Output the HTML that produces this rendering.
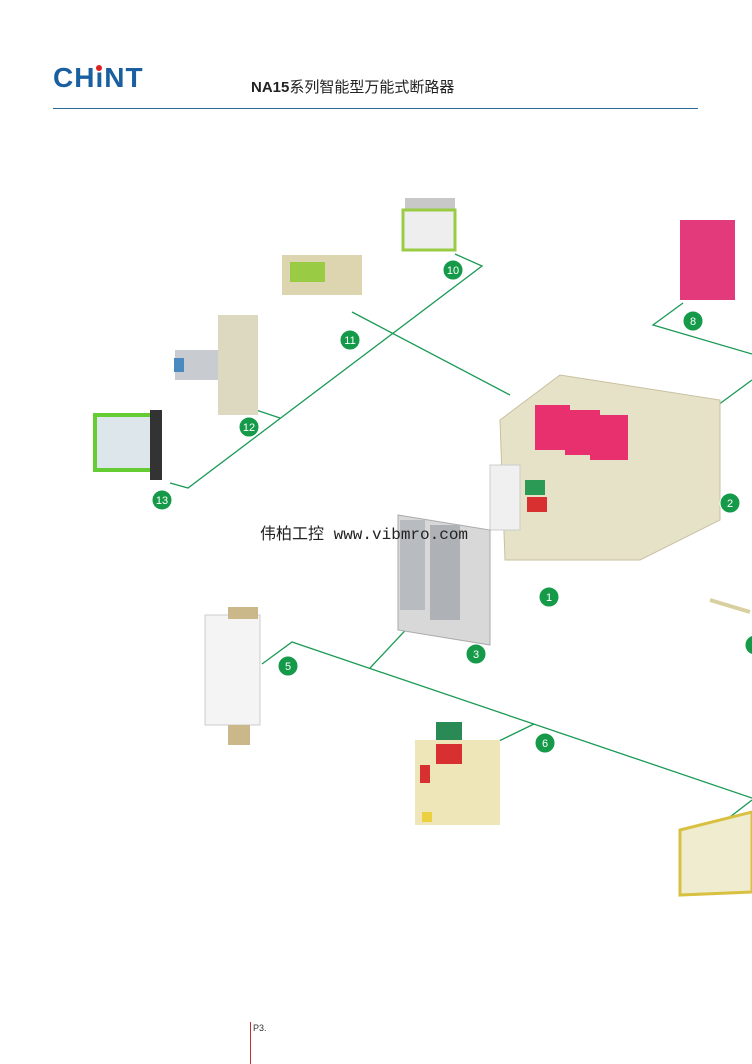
<!DOCTYPE html>
<html><head><meta charset="utf-8"><style>
html,body{margin:0;padding:0;background:#fff;}
body{width:752px;height:1064px;position:relative;overflow:hidden;font-family:"Liberation Sans","Noto Sans CJK SC",sans-serif;}
.t{position:absolute;white-space:nowrap;}
</style></head><body>
<div class="t" style="left:53px;top:62px;font-size:28px;font-weight:bold;color:#1a5fa0;letter-spacing:1px;">C<span>H</span><span style="position:relative">i<span style="position:absolute;left:1px;top:3px;width:6px;height:6px;background:#e02020;border-radius:50%"></span></span>NT</div>
<div class="t" style="left:251px;top:76px;font-size:15px;font-weight:bold;color:#222;">NA15<span style="font-weight:normal">系列智能型万能式断路器</span></div>
<div style="position:absolute;left:53px;top:108px;width:645px;height:1px;background:#2a6a98"></div>
<div style="position:absolute;left:250px;top:1022px;width:1px;height:42px;background:#c03030"></div>
<div class="t" style="left:253px;top:1023px;font-size:9px;color:#333">P3.</div>
<svg width="752" height="1064" style="position:absolute;left:0;top:0">
<g stroke="#1a9a55" stroke-width="1.3" fill="none">
<polyline points="455,254 482,266 188,488 170,483"/>
<line x1="250" y1="408" x2="280" y2="418"/>
<line x1="352" y1="312" x2="510" y2="395"/>
<polyline points="683,303 653,325 752,354"/>
<line x1="718" y1="405" x2="752" y2="380"/>
<polyline points="262,664 292,642 752,798"/>
<line x1="370" y1="668" x2="415" y2="620"/>
<line x1="468" y1="756" x2="534" y2="724"/>
<line x1="700" y1="840" x2="752" y2="800"/>
</g>
<g>
<rect x="405" y="198" width="50" height="18" fill="#c8c8c8"/><rect x="403" y="210" width="52" height="40" fill="#eee" stroke="#9c4" stroke-width="3"/>
<rect x="282" y="255" width="80" height="40" fill="#ddd5b0"/><rect x="290" y="262" width="35" height="20" fill="#9c4"/>
<rect x="175" y="350" width="45" height="30" fill="#c8ccd0"/><rect x="174" y="358" width="10" height="14" fill="#4a8ac0"/><rect x="218" y="315" width="40" height="100" fill="#ddd8c0"/>
<rect x="95" y="415" width="60" height="55" fill="#dde6ea" stroke="#6c3" stroke-width="4"/><rect x="150" y="410" width="12" height="70" fill="#333"/>
<rect x="680" y="220" width="55" height="80" fill="#e23a7a"/>
<polygon points="500,420 560,375 720,400 720,520 640,560 505,560" fill="#e6e2c8" stroke="#c8c0a0"/>
<rect x="535" y="405" width="35" height="45" fill="#e8306e"/><rect x="565" y="410" width="35" height="45" fill="#e8306e"/><rect x="590" y="415" width="38" height="45" fill="#e8306e"/>
<rect x="490" y="465" width="30" height="65" fill="#f0f0f0" stroke="#ccc"/>
<rect x="525" y="480" width="20" height="15" fill="#2a9a55"/><rect x="527" y="497" width="20" height="15" fill="#d83030"/>
<polygon points="398,515 490,530 490,645 398,630" fill="#d8d8d8" stroke="#aaa"/>
<rect x="400" y="520" width="25" height="90" fill="#b8bcc0"/><rect x="430" y="525" width="30" height="95" fill="#aeb2b6"/>
<polyline points="710,600 750,612" stroke="#d8d0a0" stroke-width="4" fill="none"/>
<rect x="205" y="615" width="55" height="110" fill="#f4f4f4" stroke="#ccc"/><rect x="228" y="607" width="30" height="12" fill="#cbb88a"/><rect x="228" y="725" width="22" height="20" fill="#cbb88a"/>
<rect x="415" y="740" width="85" height="85" fill="#eee6b8"/><rect x="436" y="722" width="26" height="18" fill="#2a8a55"/><rect x="436" y="744" width="26" height="20" fill="#d83030"/><rect x="420" y="765" width="10" height="18" fill="#d83030"/><rect x="422" y="812" width="10" height="10" fill="#ecd040"/>
<polygon points="680,830 752,812 752,892 680,895" fill="#f0ecd0" stroke="#d8c040" stroke-width="3"/>
</g>
<g fill="#149a48" stroke="#fff" stroke-width="1">
<circle cx="453" cy="270" r="10"/><circle cx="350" cy="340" r="10"/><circle cx="249" cy="427" r="10"/><circle cx="162" cy="500" r="10"/>
<circle cx="693" cy="321" r="10"/><circle cx="730" cy="503" r="10"/><circle cx="549" cy="597" r="10"/><circle cx="476" cy="654" r="10"/>
<circle cx="288" cy="666" r="10"/><circle cx="545" cy="743" r="10"/><circle cx="755" cy="645" r="10"/>
</g>
<g fill="#fff" font-family="Liberation Sans" font-size="11" text-anchor="middle">
<text x="453" y="274">10</text><text x="350" y="344">11</text><text x="249" y="431">12</text><text x="162" y="504">13</text>
<text x="693" y="325">8</text><text x="730" y="507">2</text><text x="549" y="601">1</text><text x="476" y="658">3</text>
<text x="288" y="670">5</text><text x="545" y="747">6</text>
</g>
</svg>
<div class="t" style="left:260px;top:520px;font-size:16px;color:#222;font-family:'Liberation Mono','Noto Sans CJK SC',monospace">伟柏工控 www.vibmro.com</div>
</body></html>
